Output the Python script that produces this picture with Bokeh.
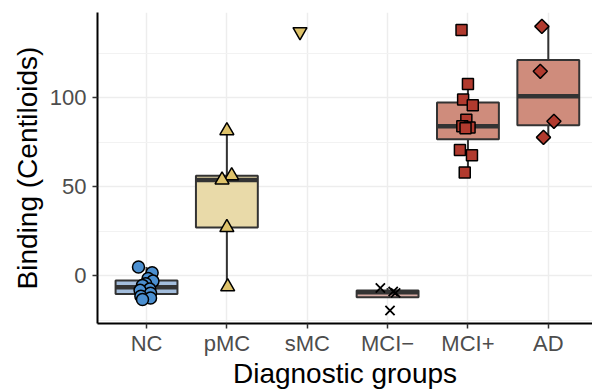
import numpy as np
from bokeh.plotting import figure
from bokeh.models import FixedTicker, SingleIntervalTicker, Range1d
from bokeh.embed import file_html
from bokeh.resources import INLINE

# ---- data ----
groups = ["NC", "pMC", "sMC", "MCI\u2212", "MCI+", "AD"]

nc_vals = [4.9, 1.7, -1.5, -3.0, -4.5, -5.4, -7.5, -8.2, -9.8, -11.5, -12.5, -13.3]
nc_jit = [-0.10, 0.07, 0.02, 0.08, -0.01, -0.05, 0.04, -0.08, 0.05, -0.07, 0.05, -0.05]

pmc_vals = [81.5, 56.2, 53.8, 27.1, -6.2]
pmc_jit = [0.0, 0.06, -0.06, 0.0, 0.01]

smc_vals = [137.0]
smc_jit = [-0.09]

mcin_vals = [-6.9, -8.8, -9.6, -19.5]
mcin_jit = [-0.09, 0.07, 0.10, 0.03]

mcip_vals = [138.0, 107.7, 98.9, 95.7, 87.6, 83.9, 83.3, 82.8, 70.6, 67.6, 58.0]
mcip_jit = [-0.08, 0.0, -0.06, 0.06, -0.02, -0.07, 0.02, -0.03, -0.10, 0.05, -0.04]

ad_vals = [140.0, 114.8, 86.7, 77.7]
ad_jit = [-0.08, -0.10, 0.07, -0.06]

values = [nc_vals, pmc_vals, smc_vals, mcin_vals, mcip_vals, ad_vals]
jitters = [nc_jit, pmc_jit, smc_jit, mcin_jit, mcip_jit, ad_jit]

# ---- styles ----
box_fill = ["#a3bddc", "#e9daa9", "#e9daa9", "#d6aaa2", "#cf8c7c", "#cf8c7c"]
pt_fill = ["#4b8fd0", "#dec26a", "#dec26a", "black", "#b13a2e", "#b13a2e"]
markers = ["circle", "triangle", "inverted_triangle", "x", "square", "square"]
msizes = [12, 14, 14, 13, 11, 10]
angles = [0, 0, 0, 0, 0, np.pi / 4]
BOXW = 0.77
FONT = "Liberation Sans"

p = figure(width=592, height=391, output_backend="svg", toolbar_location=None,
           x_range=Range1d(0.39, 6.55), y_range=Range1d(-26.8, 147.8),
           min_border_left=97, min_border_right=0, min_border_top=12, min_border_bottom=68)
p.outline_line_color = None
p.background_fill_color = "white"
p.border_fill_color = "white"

# boxplots
for i, vals in enumerate(values):
    v = np.array(vals)
    if len(v) < 2:
        continue
    x = i + 1
    q1, med, q3 = np.percentile(v, [25, 50, 75])
    iqr = q3 - q1
    up = v[v <= q3 + 1.5 * iqr].max()
    lo = v[v >= q1 - 1.5 * iqr].min()
    p.segment(x0=[x, x], y0=[q3, q1], x1=[x, x], y1=[up, lo], line_color="#333333", line_width=2)
    p.vbar(x=[x], width=BOXW, top=[q3], bottom=[q1], fill_color=box_fill[i],
           line_color="#333333", line_width=2)
    p.segment(x0=[x - BOXW / 2], x1=[x + BOXW / 2], y0=[med], y1=[med],
              line_color="#333333", line_width=4.5)

# jittered points
for i, (vals, jit) in enumerate(zip(values, jitters)):
    xs = [i + 1 + j for j in jit]
    if markers[i] == "x":
        p.scatter(x=xs, y=vals, marker="x", size=msizes[i], line_color="black", line_width=1.8)
    else:
        p.scatter(x=xs, y=vals, marker=markers[i], size=msizes[i], angle=angles[i],
                  fill_color=pt_fill[i], line_color="black", line_width=1.5)

# axes
p.xaxis.ticker = FixedTicker(ticks=list(range(1, len(groups) + 1)))
p.xaxis.major_label_overrides = {i + 1: g for i, g in enumerate(groups)}
p.yaxis.ticker = SingleIntervalTicker(interval=50, num_minor_ticks=2)

for ax in [p.xaxis[0], p.yaxis[0]]:
    ax.axis_line_color = "black"
    ax.axis_line_width = 2
    ax.major_tick_line_color = "#333333"
    ax.major_tick_line_width = 1.5
    ax.major_tick_in = 0
    ax.major_tick_out = 5
    ax.minor_tick_line_color = None
    ax.major_label_text_font = FONT
    ax.major_label_text_font_size = "22px"
    ax.major_label_text_color = "#4d4d4d"
    ax.axis_label_text_font = FONT
    ax.axis_label_text_font_size = "28px"
    ax.axis_label_text_font_style = "normal"
    ax.axis_label_text_color = "black"

p.xaxis.axis_label = "Diagnostic groups"
p.yaxis.axis_label = "Binding (Centiloids)"
p.xaxis.major_label_standoff = 2
p.yaxis.major_label_standoff = 6
p.xaxis.axis_label_standoff = -1
p.yaxis.axis_label_standoff = 4

p.xgrid.grid_line_color = "#ededed"
p.xgrid.grid_line_width = 1.5
p.ygrid.grid_line_color = "#ededed"
p.ygrid.grid_line_width = 1.5
p.ygrid.minor_grid_line_color = "#f2f2f2"
p.ygrid.minor_grid_line_width = 1.2

open("out.html", "w").write(file_html(p, INLINE))
